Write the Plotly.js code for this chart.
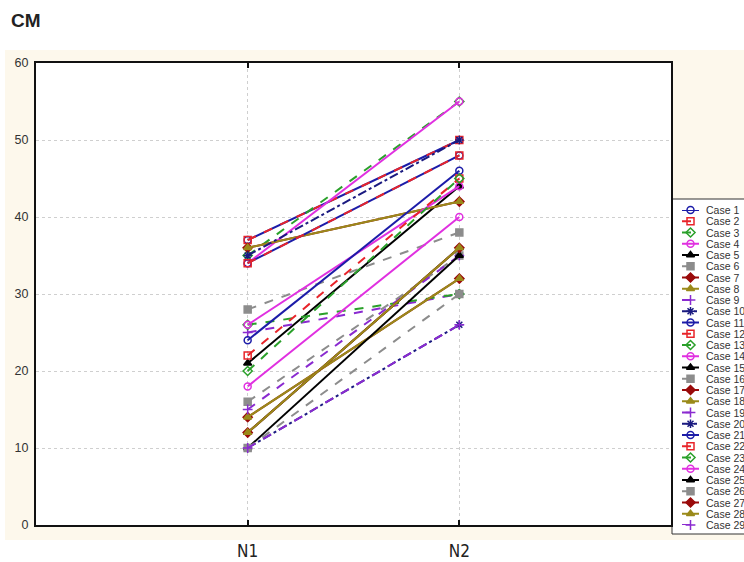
<!DOCTYPE html>
<html>
<head>
<meta charset="utf-8">
<script src="https://cdn.plot.ly/plotly-3.0.1.min.js"></script>
<style>html,body{margin:0;padding:0;background:#fff;}#chart{width:744px;height:562px;}</style>
</head>
<body>
<div id="chart"></div>
<script>
// ---- data ----
const categories = ['N1', 'N2'];
const caseNames = ['Case 1','Case 2','Case 3','Case 4','Case 5','Case 6','Case 7','Case 8','Case 9','Case 10',
  'Case 11','Case 12','Case 13','Case 14','Case 15','Case 16','Case 17','Case 18','Case 19','Case 20',
  'Case 21','Case 22','Case 23','Case 24','Case 25','Case 26','Case 27','Case 28','Case 29'];
const valuesN1 = [37,37,35,34,21,28,36,36,25,35,34,34,26,26,12,16,14,14,15,10,24,22,20,18,10,10,12,12,10];
const valuesN2 = [50,50,55,55,44,38,42,42,30,50,48,48,30,44,36,35,32,32,35,26,46,45,45,40,35,30,36,36,26];
const yTicks = [0,10,20,30,40,50,60];

// ---- styles (cycle of 10) ----
const colors  = ['#1c1ca8','#e8242a','#2aa02a','#e030e0','#000000','#8c8c8c','#9a0a0a','#9a8a1a','#8a2ad0','#1a1a80'];
const symbols = ['circle-open','square-open','diamond-open','circle-open','triangle-up','square','diamond','triangle-up','cross-thin-open','asterisk-open'];
const dashes  = ['solid','dash','dash','solid','solid','dash','solid','solid','dash','dashdot'];

// ---- geometry ----
const W = 744, H = 562, ML = 36, MR = 0, MT = 63, MB = 20;
const PW = W - ML - MR, PH = H - MT - MB;
const px = v => (v - ML) / PW;           // pixel x -> paper x
const py = v => (H - MB - v) / PH;       // pixel y -> paper y

const traces = [];
caseNames.forEach((name, i) => {
  const k = i % 10;
  traces.push({
    x: categories, y: [valuesN1[i], valuesN2[i]],
    type: 'scatter', mode: 'lines+markers', name: name, showlegend: false,
    line: {color: colors[k], width: 2, dash: dashes[k]},
    marker: {symbol: symbols[k], size: 7, color: colors[k], line: {color: colors[k], width: 1.5}},
    xaxis: 'x', yaxis: 'y', cliponaxis: false
  });
});
// manual legend samples
const annotations = [];
caseNames.forEach((name, i) => {
  const k = i % 10;
  traces.push({
    x: [0, 1, 2], y: [i + 1, i + 1, i + 1],
    type: 'scatter', mode: 'lines+markers', showlegend: false, hoverinfo: 'skip',
    line: {color: colors[k], width: 2, dash: dashes[k]},
    marker: {symbol: symbols[k], size: 7, color: colors[k], opacity: [0, 1, 0], line: {color: colors[k], width: 1.5}},
    xaxis: 'x2', yaxis: 'y2', cliponaxis: false
  });
  annotations.push({
    text: name, xref: 'paper', x: px(704), xanchor: 'left', yref: 'y2', y: i + 1, yanchor: 'middle',
    showarrow: false, font: {family: 'Arial, Liberation Sans, sans-serif', size: 10.5, color: '#333'}
  });
});

const layout = {
  width: W, height: H,
  margin: {l: ML, r: MR, t: MT, b: MB, pad: 0},
  paper_bgcolor: '#ffffff', plot_bgcolor: '#ffffff',
  title: {text: '<b>CM</b>', x: 11 / W, xanchor: 'left', y: 1 - 20 / H, yanchor: 'middle',
          font: {family: 'Arial, Liberation Sans, sans-serif', size: 19, color: '#222'}},
  xaxis: {
    type: 'category', domain: [0, px(671)], range: [-1, 2],
    showline: true, linecolor: '#111', linewidth: 2, mirror: 'ticks',
    ticks: 'inside', ticklen: 5, tickwidth: 2, tickcolor: '#111',
    showgrid: true, gridcolor: '#cfcfcf', griddash: 'dot', gridwidth: 1,
    tickfont: {family: 'Liberation Sans Narrow, DejaVu Sans Condensed, Arial Narrow, sans-serif', size: 17, color: '#222'},
    ticklabelstandoff: 10, fixedrange: true
  },
  yaxis: {
    domain: [py(525), 1], range: [0, 60], tickvals: yTicks,
    showline: true, linecolor: '#111', linewidth: 2, mirror: true,
    ticks: '', showgrid: true, gridcolor: '#cfcfcf', griddash: 'dot', gridwidth: 1, zeroline: false,
    tickfont: {family: 'Arial, Liberation Sans, sans-serif', size: 12.5, color: '#333'},
    ticklabelstandoff: 3, fixedrange: true
  },
  xaxis2: {domain: [px(682), px(699)], range: [0, 2], visible: false, anchor: 'y2', fixedrange: true},
  yaxis2: {domain: [py(525), py(210)], range: [29, 1], visible: false, anchor: 'x2', fixedrange: true},
  shapes: [
    {type: 'rect', xref: 'paper', yref: 'paper', x0: px(5), x1: 1.02, y0: py(540), y1: py(50),
     fillcolor: '#fdf8ec', line: {width: 0}, layer: 'below'},
    {type: 'rect', xref: 'paper', yref: 'paper', x0: 0, x1: px(671), y0: py(525), y1: 1,
     fillcolor: '#ffffff', line: {width: 0}, layer: 'below'},
    {type: 'rect', xref: 'paper', yref: 'paper', x0: px(672), x1: 1.05, y0: py(534), y1: py(199),
     fillcolor: '#ffffff', line: {width: 1, color: '#333'}, layer: 'below'}
  ],
  annotations: annotations,
  hovermode: false
};

Plotly.newPlot('chart', traces, layout, {displayModeBar: false, staticPlot: true});
</script>
</body>
</html>
